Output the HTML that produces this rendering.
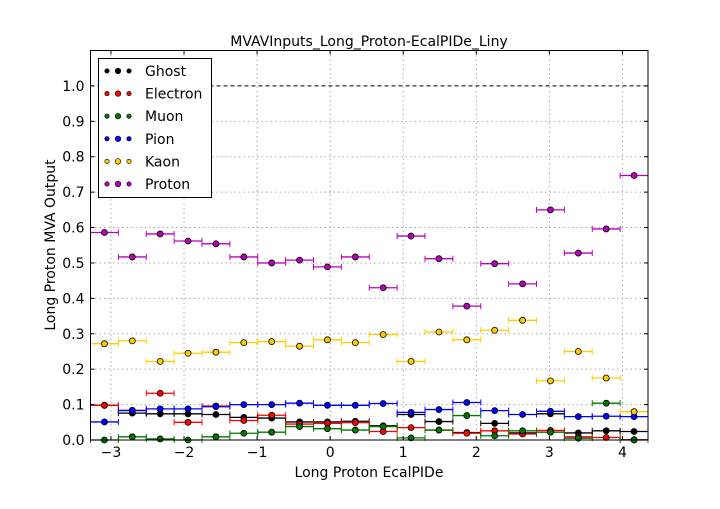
<!DOCTYPE html>
<html><head><meta charset="utf-8"><style>
body{margin:0;background:#fff;width:720px;height:504px;overflow:hidden}
svg text{font-family:"DejaVu Sans","Liberation Sans",sans-serif}
</style></head><body>
<svg id="chart" width="720" height="504" xmlns="http://www.w3.org/2000/svg">
<rect x="0" y="0" width="720" height="504" fill="#fff"/>
<g id="grid"></g>
<g id="marks"></g>
<rect x="90.5" y="50.5" width="557.5" height="389.5" fill="none" stroke="#000" stroke-width="1"/>
<g id="axes"></g>
<text x="369" y="46" font-size="14" text-anchor="middle">MVAVInputs_Long_Proton-EcalPIDe_Liny</text>
<text x="369" y="477" font-size="14" text-anchor="middle">Long Proton EcalPIDe</text>
<text transform="translate(55,245) rotate(-90)" font-size="14" text-anchor="middle">Long Proton MVA Output</text>
<g id="legend"></g>
</svg>
<script>
const seriesNames=["Ghost","Electron","Muon","Pion","Kaon","Proton"];
const seriesColors=["#000000","#ff0000","#007700","#0000ff","#ffcc00","#bb00bb"];
const ghost=[0.098,0.076,0.074,0.074,0.072,0.064,0.062,0.051,0.051,0.053,0.040,0.072,0.052,0.021,0.047,0.020,0.074,0.020,0.026,0.024];
const electron=[0.098,0.084,0.132,0.050,0.096,0.055,0.070,0.045,0.047,0.049,0.024,0.035,0.028,0.019,0.026,0.017,0.027,0.009,0.007,0.001];
const muon=[0.000,0.009,0.003,0.000,0.009,0.019,0.022,0.038,0.032,0.028,0.038,0.006,0.028,0.069,0.012,0.026,0.022,0.005,0.104,0.000];
const pion=[0.051,0.083,0.088,0.088,0.094,0.100,0.100,0.104,0.098,0.098,0.103,0.078,0.086,0.106,0.083,0.072,0.081,0.066,0.067,0.066];
const kaon=[0.272,0.280,0.222,0.245,0.248,0.275,0.278,0.265,0.283,0.275,0.298,0.222,0.305,0.283,0.310,0.338,0.167,0.250,0.175,0.080];
const proton=[0.586,0.517,0.582,0.562,0.554,0.517,0.500,0.508,0.489,0.517,0.430,0.576,0.512,0.378,0.498,0.441,0.650,0.528,0.596,0.747];
const xTicks=[-3,-2,-1,0,1,2,3,4];
const yTicks=[0.0,0.1,0.2,0.3,0.4,0.5,0.6,0.7,0.8,0.9,1.0];
const xMin=-3.28,xMax=4.35,yMin=0,yMax=1.1;
const L=90.5,R=648,T=50.5,B=440;
const NS="http://www.w3.org/2000/svg";
function X(v){return L+(v-xMin)/(xMax-xMin)*(R-L);}
function Y(v){return B-(v-yMin)/(yMax-yMin)*(B-T);}
function mk(tag,attrs,parent){const e=document.createElementNS(NS,tag);for(const k in attrs)e.setAttribute(k,attrs[k]);parent.appendChild(e);return e;}
const grid=document.getElementById('grid'),axes=document.getElementById('axes'),marks=document.getElementById('marks'),legend=document.getElementById('legend');
xTicks.forEach(t=>{const x=X(t);
 const g=mk('line',{x1:x,x2:x,y1:T,y2:B,stroke:'#aaa','stroke-dasharray':'1.5,3'},grid);
 
 
 mk('line',{x1:x,x2:x,y1:B,y2:B-4,stroke:'#000'},axes);
 mk('line',{x1:x,x2:x,y1:T,y2:T+4,stroke:'#000'},axes);
 const tx=mk('text',{x:x,y:B+17,'font-size':14,'text-anchor':'middle'},axes);
 tx.textContent=(t<0?'\u2212'+(-t):t);
 
 
});
yTicks.forEach(t=>{const y=Y(t);
 if(t<1){const g=mk('line',{x1:L,x2:R,y1:y,y2:y,stroke:'#aaa','stroke-dasharray':'1.5,3'},grid);
 
 }
 mk('line',{x1:L,x2:L+4,y1:y,y2:y,stroke:'#000'},axes);
 mk('line',{x1:R,x2:R-4,y1:y,y2:y,stroke:'#000'},axes);
 const tx=mk('text',{x:L-6,y:y+5,'font-size':14,'text-anchor':'end'},axes);
 tx.textContent=t.toFixed(1);
 
 
});
const ref=mk('line',{x1:L,x2:R,y1:Y(1),y2:Y(1),stroke:'#000','stroke-dasharray':'4,3'},grid);


const all=[ghost,electron,muon,pion,kaon,proton];
const nb=20,w=(xMax-xMin)/nb;
all.forEach((arr,si)=>{const c=seriesColors[si];
 const g=mk('g',{},marks);
 
 
 arr.forEach((v,i)=>{const x0=X(xMin+i*w),x1=X(xMin+(i+1)*w),xc=(x0+x1)/2,y=Y(v);
  mk('line',{x1:x0,x2:x1,y1:y,y2:y,stroke:c,'stroke-width':1.3},g);
  mk('line',{x1:x0,x2:x0,y1:y-3,y2:y+3,stroke:c,'stroke-width':1},g);
  mk('line',{x1:x1,x2:x1,y1:y-3,y2:y+3,stroke:c,'stroke-width':1},g);
  const p=mk('circle',{cx:xc,cy:y,r:3,fill:c,stroke:'#000','stroke-width':0.8},g);
  
  
 });
});
mk('rect',{x:98.5,y:58.5,width:113,height:139,fill:'#fff',stroke:'#000'},legend);
seriesNames.forEach((n,i)=>{const y=71+i*22.6;
 const e=mk('g',{},legend);
 
 
 [[107,2.2],[118,2.8],[129,2.2]].forEach(d=>mk('circle',{cx:d[0],cy:y,r:d[1],fill:seriesColors[i],stroke:'#000','stroke-width':0.6},e));
 const t=mk('text',{x:145,y:y+5,'font-size':14},e);t.textContent=n;
});
</script>
</body></html>
